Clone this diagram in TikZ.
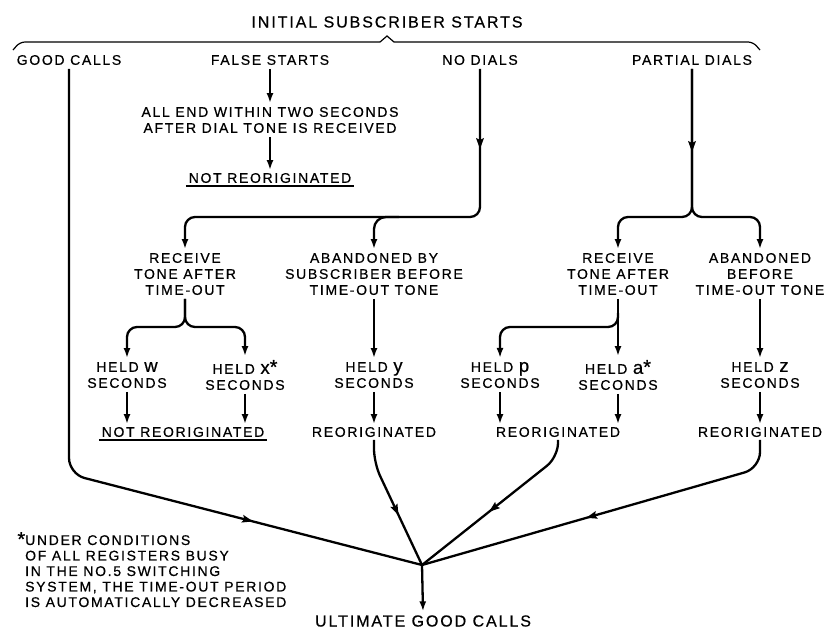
\documentclass[tikz,border=0pt]{standalone}
\usepackage{fontspec}
\setmainfont{Liberation Sans}[LetterSpace=12,FakeBold=0.6]
\usetikzlibrary{arrows.meta,decorations.markings,calc}
\newcommand\vl[1]{{\fontsize{18.5}{16}\selectfont #1}}
\newcommand\astk{{\fontsize{20}{16}\selectfont *}}
\tikzset{
  lbl/.style={font=\fontsize{14}{16}\selectfont, align=center, inner sep=2pt, outer sep=2pt},
  big/.style={lbl, font=\fontsize{16}{18}\selectfont},
  ul/.style={font=\fontsize{14}{16}\selectfont, inner sep=3pt, outer sep=0pt},
  conn/.style={line width=2.3pt},
  arw/.tip={Latex[length=10pt,width=7pt]},
  arr/.style={conn, -arw},
  midarrow/.style={postaction={decorate}, decoration={markings, mark=at position #1 with {\fill[sharp corners] (5pt,0pt) -- (-6pt,4pt) -- (-4pt,0pt) -- (-6pt,-4pt) -- cycle;}}},
  ulline/.style={line width=1.4pt}
}
\begin{document}
\begin{tikzpicture}[x=1pt,y=-1pt]
\useasboundingbox (0,0) rectangle (829,633);
% title and brace
\node[big] (tt) at (387,22) {INITIAL SUBSCRIBER STARTS};
\coordinate (bl) at (13,50);
\coordinate (br) at (760,50);
\coordinate (bt) at (387,36);
\draw[line width=1.2pt] (bl) [rounded corners=5]-- (20,42) [sharp corners]-- (380,42) -- (bt) -- (394,42) [rounded corners=5]-- (753,42) -- (br);
% top row
\node[lbl] (gc) at (69,60) {GOOD CALLS};
\node[lbl] (fs) at (270,60) {FALSE STARTS};
\node[lbl] (nd) at (480,60) {NO DIALS};
\node[lbl] (pd) at (692,60) {PARTIAL DIALS};
% false starts
\node[lbl] (allend) at (270,120) {ALL END WITHIN TWO SECONDS\\AFTER DIAL TONE IS RECEIVED};
\node[ul] (nr1) at (270,178) {NOT REORIGINATED};
% no dials branch
\node[lbl] (rx1) at (185,274) {RECEIVE\\TONE AFTER\\TIME-OUT};
\node[lbl] (ab1) at (374,274) {ABANDONED BY\\SUBSCRIBER BEFORE\\TIME-OUT TONE};
\node[lbl] (hw) at (127,375) {HELD \vl{w}\\SECONDS};
\node[lbl] (hx) at (245,375) {HELD \vl{x}\astk\\SECONDS};
\node[lbl] (hy) at (374,375) {HELD \vl{y}\\SECONDS};
\node[ul] (nr2) at (183,432) {NOT REORIGINATED};
\node[ul] (r1) at (374,432) {REORIGINATED};
% partial dials branch
\node[lbl] (rx2) at (618,274) {RECEIVE\\TONE AFTER\\TIME-OUT};
\node[lbl] (ab2) at (760,274) {ABANDONED\\BEFORE\\TIME-OUT TONE};
\node[lbl] (hp) at (500,375) {HELD \vl{p}\\SECONDS};
\node[lbl] (ha) at (618,375) {HELD \vl{a}\astk\\SECONDS};
\node[lbl] (hz) at (760,375) {HELD \vl{z}\\SECONDS};
\node[ul] (r2) at (558,432) {REORIGINATED};
\node[ul] (r3) at (760,432) {REORIGINATED};
% bottom
\node[big] (ugc) at (423,621) {ULTIMATE GOOD CALLS};
\node[font=\fontsize{14}{15.5}\selectfont, align=left, anchor=north west, inner sep=0pt] (note) at (25,532)
  {\llap{\raisebox{-1pt}{\astk}}UNDER CONDITIONS\\OF ALL REGISTERS BUSY\\IN THE NO.5 SWITCHING\\SYSTEM, THE TIME-OUT PERIOD\\IS AUTOMATICALLY DECREASED};
% junctions
\coordinate (ndc) at (480,217);
\coordinate (pdc) at (692,217);
\coordinate (s1) at (185,327);
\coordinate (s2) at (618,327);
\coordinate (gcb) at (69,474);
\coordinate (r1b) at (374,463);
\coordinate (r2b) at (558,457);
\coordinate (r3b) at (760,468);
\coordinate (conv) at (422,565);
% underlines
\draw[ulline] (nr1.south west) -- (nr1.south east);
\draw[ulline] (nr2.south west) -- (nr2.south east);
% false starts
\draw[arr] (fs.south) -- (allend.north);
\draw[arr] (allend.south) -- (nr1.north);
% no dials
\draw[arr, rounded corners=10, midarrow=75pt] (nd.south) -- (ndc) -- (ndc -| rx1.north) -- (rx1.north);
\draw[arr, rounded corners=12] ($(ndc -| ab1.north)+(25,0)$) -- (ndc -| ab1.north) -- (ab1.north);
\draw[arr, rounded corners=10] (rx1.south) -- (s1) -- (s1 -| hw.north) -- (hw.north);
\draw[arr, rounded corners=10] (rx1.south) -- (s1) -- (s1 -| hx.north) -- (hx.north);
\draw[arr] (ab1.south) -- (hy.north);
\draw[arr] (hw.south) -- (hw.south |- nr2.north);
\draw[arr] (hx.south) -- (hx.south |- nr2.north);
\draw[arr] (hy.south) -- (r1.north);
% partial dials
\draw[arr, rounded corners=10, midarrow=78pt] (pd.south) -- (pdc) -- (pdc -| rx2.north) -- (rx2.north);
\draw[arr, rounded corners=10] (pd.south) -- (pdc) -- (pdc -| ab2.north) -- (ab2.north);
\draw[arr] (rx2.south) -- (ha.north);
\draw[arr, rounded corners=10] ($(s2)+(0,-14)$) -- (s2) -- (s2 -| hp.north) -- (hp.north);
\draw[arr] (ab2.south) -- (hz.north);
\draw[arr] (hp.south) -- (hp.south |- r2.north);
\draw[arr] (ha.south) -- (ha.south |- r2.north);
\draw[arr] (hz.south) -- (r3.north);
% to ultimate good calls
\draw[conn, rounded corners=16, midarrow=585pt] (gc.south) -- (gcb) -- (conv);
\draw[conn, rounded corners=14, midarrow=75pt] (r1.south) -- (r1b) -- (conv);
\draw[conn, rounded corners=14, midarrow=98pt] (r2.south) -- (r2b) -- (conv);
\draw[conn, rounded corners=16, midarrow=199pt] (r3.south) -- (r3b) -- (conv);
\draw[arr] (conv) -- (ugc.north);
\end{tikzpicture}
\end{document}
